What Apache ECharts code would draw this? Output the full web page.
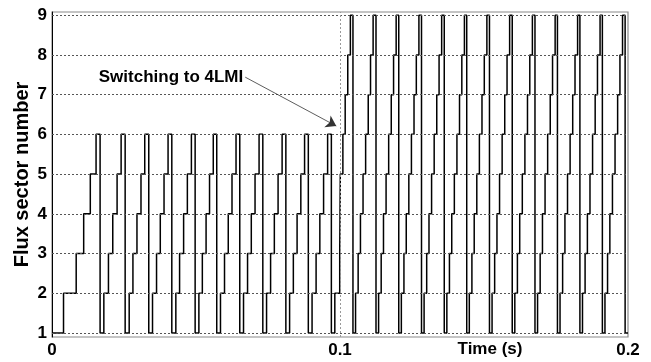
<!DOCTYPE html>
<html>
<head>
<meta charset="utf-8">
<script src="https://cdn.jsdelivr.net/npm/echarts@6/dist/echarts.min.js"></script>
<style>
html,body{margin:0;padding:0;background:#fff;}
#c{width:651px;height:362px;}
</style>
</head>
<body>
<div id="c"></div>
<script>
// Times (s) at which the flux sector number changes; index in a cycle -> sector (index+1)
const sixSectorCycles = [
  [0.0000, 0.0040, 0.0084, 0.0110, 0.0133, 0.0153],
  [0.0167, 0.0180, 0.0196, 0.0211, 0.0226, 0.0240],
  [0.0254, 0.0268, 0.0281, 0.0295, 0.0309, 0.0322],
  [0.0336, 0.0349, 0.0363, 0.0376, 0.0389, 0.0403],
  [0.0416, 0.0430, 0.0443, 0.0457, 0.0470, 0.0484],
  [0.0497, 0.0510, 0.0522, 0.0535, 0.0547, 0.0560],
  [0.0572, 0.0585, 0.0599, 0.0612, 0.0625, 0.0639],
  [0.0652, 0.0665, 0.0679, 0.0692, 0.0705, 0.0719],
  [0.0732, 0.0745, 0.0759, 0.0772, 0.0785, 0.0799],
  [0.0812, 0.0825, 0.0838, 0.0851, 0.0864, 0.0877],
  [0.0890, 0.0903, 0.0917, 0.0930, 0.0943, 0.0957],
  [0.0970, 0.0982]
];
// Switch-over: sector 3 .. 9
const switchStartSector = 3;
const switchCycle = [0.0999, 0.1000, 0.1001, 0.1010, 0.1018, 0.1027, 0.1036];
const nineSectorCycles = [
  [0.1045, 0.1054, 0.1063, 0.1071, 0.1080, 0.1089, 0.1098, 0.1106, 0.1115],
  [0.1125, 0.1134, 0.1143, 0.1151, 0.1160, 0.1169, 0.1178, 0.1186, 0.1195],
  [0.1204, 0.1213, 0.1222, 0.1230, 0.1239, 0.1248, 0.1257, 0.1265, 0.1274],
  [0.1283, 0.1292, 0.1301, 0.1309, 0.1318, 0.1327, 0.1336, 0.1344, 0.1353],
  [0.1362, 0.1371, 0.1380, 0.1388, 0.1397, 0.1406, 0.1415, 0.1423, 0.1432],
  [0.1440, 0.1449, 0.1458, 0.1466, 0.1475, 0.1484, 0.1493, 0.1501, 0.1510],
  [0.1519, 0.1528, 0.1537, 0.1545, 0.1554, 0.1563, 0.1572, 0.1580, 0.1589],
  [0.1598, 0.1607, 0.1616, 0.1624, 0.1633, 0.1642, 0.1651, 0.1659, 0.1668],
  [0.1677, 0.1686, 0.1695, 0.1703, 0.1712, 0.1721, 0.1730, 0.1738, 0.1747],
  [0.1755, 0.1764, 0.1773, 0.1781, 0.1790, 0.1799, 0.1808, 0.1816, 0.1825],
  [0.1833, 0.1842, 0.1851, 0.1859, 0.1868, 0.1877, 0.1886, 0.1894, 0.1903],
  [0.1911, 0.1920, 0.1929, 0.1937, 0.1946, 0.1955, 0.1964, 0.1972, 0.1981],
  [0.1990]
];
const endPoint = [0.2, 1];
const yTicks = [1, 2, 3, 4, 5, 6, 7, 8, 9];
const xTicks = [0, 0.1, 0.2];
const switchTime = 0.1;
const annotationText = 'Switching to 4LMI';
const arrowFrom = [0.0671, 7.44];
const arrowTo = [0.0987, 6.21];

const data = [];
sixSectorCycles.forEach(c => c.forEach((t, i) => data.push([t, i + 1])));
switchCycle.forEach((t, i) => data.push([t, switchStartSector + i]));
nineSectorCycles.forEach(c => c.forEach((t, i) => data.push([t, i + 1])));
data.push(endPoint);

const FONT = '"Liberation Sans", Arial, Helvetica, sans-serif';
const chart = echarts.init(document.getElementById('c'), null, {renderer: 'canvas'});
chart.setOption({
  animation: false,
  backgroundColor: '#fff',
  grid: {left: 52, right: 23, top: 12, bottom: 25, show: true, borderColor: '#8a8a8a', borderWidth: 1.2,
    containLabel: false, outerBoundsMode: 'none'},
  xAxis: {
    type: 'value', min: xTicks[0], max: xTicks[2], interval: 0.1,
    axisLine: {show: false}, axisTick: {show: false}, splitLine: {show: false},
    axisLabel: {color: '#000', fontFamily: FONT, fontWeight: 'bold', fontSize: 17, margin: 5,
      showMinLabel: true, showMaxLabel: true, formatter: v => String(v)},
    name: 'Time (s)', nameLocation: 'middle', nameGap: 4, nameMoveOverlap: false,
    nameTextStyle: {color: '#000', fontFamily: FONT, fontWeight: 'bold', fontSize: 17, padding: [0, 0, 0, 300],
      verticalAlign: 'top'}
  },
  yAxis: {
    type: 'value', min: 0.9, max: 9.08,
    axisLine: {show: true, lineStyle: {color: '#000', width: 1}},
    axisTick: {show: false}, splitLine: {show: false},
    axisLabel: {color: '#000', fontFamily: FONT, fontWeight: 'bold', fontSize: 17, margin: 5, customValues: yTicks},
    name: 'Flux sector number', nameLocation: 'middle', nameGap: 20, nameMoveOverlap: false,
    nameTextStyle: {color: '#000', fontFamily: FONT, fontWeight: 'bold', fontSize: 20}
  },
  series: [
    {
      type: 'line', data: [], silent: true, z: 1,
      markLine: {
        silent: true, symbol: 'none', label: {show: false},
        lineStyle: {color: '#555', width: 1, type: [2, 2]},
        data: yTicks.map(v => ({yAxis: v})).concat([{xAxis: switchTime, lineStyle: {color: '#999', width: 1, type: [2, 2]}}])
      }
    },
    {
      type: 'line', data: data, step: 'end', showSymbol: false, z: 3,
      lineStyle: {color: '#000', width: 1.5},
      markLine: {
        silent: true, symbol: ['none', 'arrow'], symbolSize: 10,
        label: {show: false},
        lineStyle: {color: '#333', width: 0.8, type: 'solid'},
        itemStyle: {color: '#222'},
        data: [[{coord: arrowFrom}, {coord: arrowTo}]]
      },
      markPoint: {
        silent: true, symbol: 'circle', symbolSize: 0,
        data: [{coord: arrowFrom, label: {show: true, position: 'left', distance: 2, formatter: annotationText,
          color: '#000', fontFamily: FONT, fontWeight: 'bold', fontSize: 17}}]
      }
    }
  ]
});
</script>
</body>
</html>
